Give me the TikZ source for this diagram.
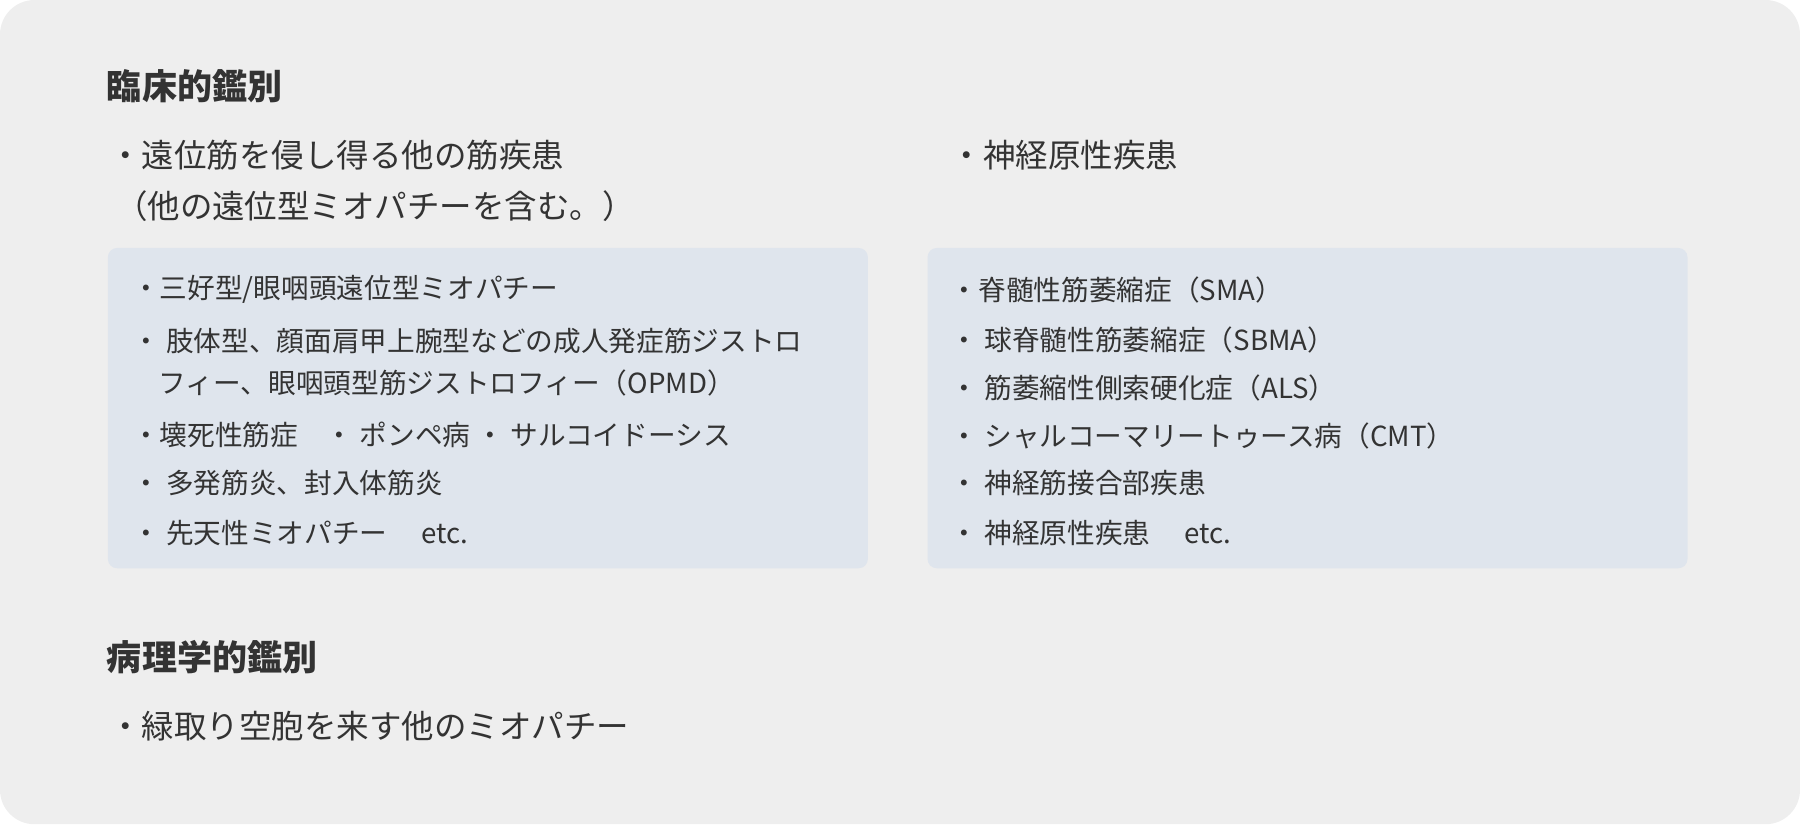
\documentclass[tikz,border=0pt]{standalone}
\usepackage{fontspec}
\setmainfont{Noto Sans CJK JP}
\definecolor{bg}{HTML}{EEEEEE}
\definecolor{boxc}{HTML}{DFE5ED}
\definecolor{txt}{HTML}{333333}
\begin{document}
\begin{tikzpicture}[x=1pt,y=-1pt,
  head/.style={anchor=west,inner sep=0,text=txt,font=\fontsize{30.5}{36}\selectfont\bfseries},
  body/.style={anchor=west,inner sep=0,text=txt,font=\fontsize{28.3}{34}\selectfont},
  item/.style={anchor=west,inner sep=0,text=txt,font=\fontsize{24.1}{28}\selectfont}]
\fill[bg,rounded corners=30] (0,0) rectangle (1568,718);
\useasboundingbox (0,0) rectangle (1568,718);
\fill[boxc,rounded corners=8] (94,216) rectangle (756,495);
\fill[boxc,rounded corners=8] (808,216) rectangle (1470,495);
\node[head] (h1) at (93,75) {臨床的鑑別};
\node[body] (a1) at (95,135) {・遠位筋を侵し得る他の筋疾患};
\node[body] (a2) at (100,180) {（他の遠位型ミオパチーを含む。）};
\node[body] (b1) at (828,135) {・神経原性疾患};
\node[item] (l1) at (115,252) {・三好型/眼咽頭遠位型ミオパチー};
\node[item] (l2) at (115,297) {・ 肢体型、顔面肩甲上腕型などの成人発症筋ジストロ};
\node[item] (l2b) at (138,334) {フィー、眼咽頭型筋ジストロフィー（OPMD）};
\node[item] (l3) at (115,379) {・壊死性筋症　・ ポンペ病 ・ サルコイドーシス};
\node[item] (l4) at (115,421) {・ 多発筋炎、封入体筋炎};
\node[item] (l5) at (115,464) {・ 先天性ミオパチー　 etc.};
\node[item] (r1) at (828,253) {・脊髄性筋萎縮症（SMA）};
\node[item] (r2) at (828,296) {・ 球脊髄性筋萎縮症（SBMA）};
\node[item] (r3) at (828,338) {・ 筋萎縮性側索硬化症（ALS）};
\node[item] (r4) at (828,380) {・ シャルコーマリートゥース病（CMT）};
\node[item] (r5) at (828,421) {・ 神経筋接合部疾患};
\node[item] (r6) at (828,464) {・ 神経原性疾患　 etc.};
\node[head] (h2) at (93,572) {病理学的鑑別};
\node[body] (p1) at (95,633) {・緑取り空胞を来す他のミオパチー};
\end{tikzpicture}
\end{document}
